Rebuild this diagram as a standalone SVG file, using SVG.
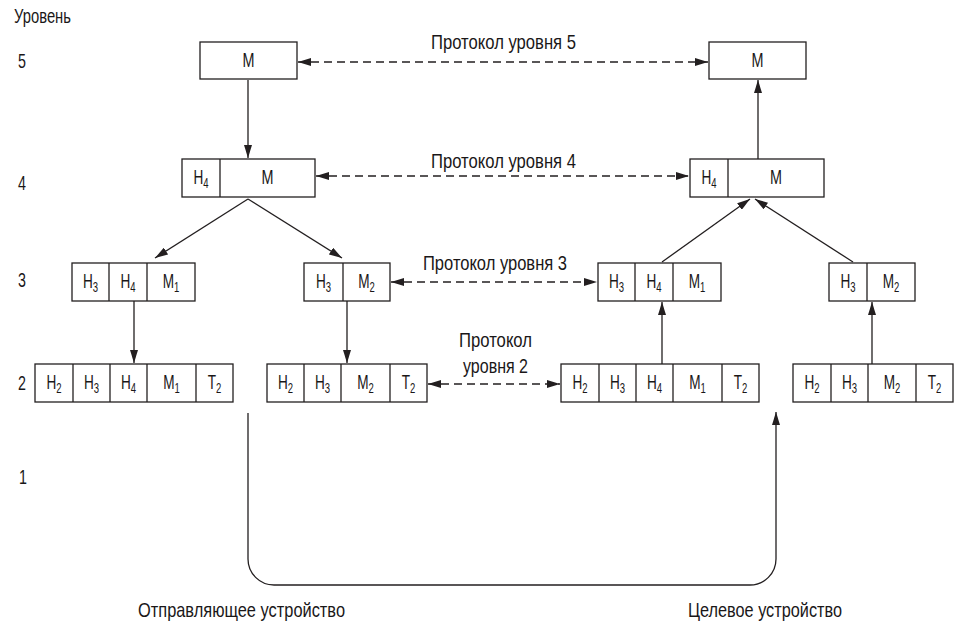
<svg xmlns="http://www.w3.org/2000/svg" width="954" height="626" viewBox="0 0 954 626">
<style>
text{font-family:"Liberation Sans","Arial",sans-serif;fill:#1a1718}
.lbl{font-size:21px}
.cell{font-size:20px;text-anchor:middle}
.sub{font-size:14px}
.box{fill:#fff;stroke:#231f20;stroke-width:1.3}
.div{stroke:#231f20;stroke-width:1.3}
.ln{fill:none;stroke:#231f20;stroke-width:1.3}
.dash{fill:none;stroke:#231f20;stroke-width:1.3;stroke-dasharray:8 5}
</style>
<defs>
<marker id="ah" viewBox="0 0 13 8" refX="13" refY="4" markerWidth="13" markerHeight="8" markerUnits="userSpaceOnUse" orient="auto-start-reverse">
<path d="M0,0 L13,4 L0,8 Z" fill="#231f20"/>
</marker>
</defs>

<g id="levels">
<text class="lbl" x="14" y="23" textLength="57" lengthAdjust="spacingAndGlyphs">Уровень</text>
<text class="lbl" transform="translate(18,68) scale(0.68,1)">5</text>
<text class="lbl" transform="translate(18,190) scale(0.68,1)">4</text>
<text class="lbl" transform="translate(18,287) scale(0.68,1)">3</text>
<text class="lbl" transform="translate(18,390) scale(0.68,1)">2</text>
<text class="lbl" transform="translate(19,484) scale(0.68,1)">1</text>
</g>

<g id="connectors">
<line class="ln" x1="248" y1="80" x2="248" y2="158" marker-end="url(#ah)"/>
<line class="ln" x1="248" y1="199" x2="155" y2="258" marker-end="url(#ah)"/>
<line class="ln" x1="248" y1="199" x2="342" y2="258" marker-end="url(#ah)"/>
<line class="ln" x1="134" y1="301" x2="134" y2="363" marker-end="url(#ah)"/>
<line class="ln" x1="347" y1="301" x2="347" y2="363" marker-end="url(#ah)"/>
<line class="ln" x1="662" y1="364" x2="662" y2="302" marker-end="url(#ah)"/>
<line class="ln" x1="872" y1="364" x2="872" y2="302" marker-end="url(#ah)"/>
<line class="ln" x1="662" y1="262" x2="750" y2="199" marker-end="url(#ah)"/>
<line class="ln" x1="853" y1="262" x2="755" y2="199" marker-end="url(#ah)"/>
<line class="ln" x1="758" y1="159" x2="758" y2="80" marker-end="url(#ah)"/>
<line class="dash" x1="298" y1="62" x2="708" y2="62" marker-start="url(#ah)" marker-end="url(#ah)"/>
<line class="dash" x1="316" y1="176" x2="689" y2="176" marker-start="url(#ah)" marker-end="url(#ah)"/>
<line class="dash" x1="391" y1="282" x2="597" y2="282" marker-start="url(#ah)" marker-end="url(#ah)"/>
<line class="dash" x1="428" y1="384" x2="560" y2="384" marker-start="url(#ah)" marker-end="url(#ah)"/>
<path class="ln" d="M248,413 V559 A26,26 0 0 0 274,585 H750 A26,26 0 0 0 776,559 V412" marker-end="url(#ah)"/>
</g>

<g id="protocol-labels">
<text class="lbl" x="431" y="49" textLength="145" lengthAdjust="spacingAndGlyphs">Протокол уровня 5</text>
<text class="lbl" x="431" y="168" textLength="145" lengthAdjust="spacingAndGlyphs">Протокол уровня 4</text>
<text class="lbl" x="423" y="270" textLength="144" lengthAdjust="spacingAndGlyphs">Протокол уровня 3</text>
<text class="lbl" x="459" y="347" textLength="73" lengthAdjust="spacingAndGlyphs">Протокол</text>
<text class="lbl" x="463" y="373" textLength="65" lengthAdjust="spacingAndGlyphs">уровня 2</text>
</g>

<g id="n-l5-send">
<rect class="box" x="200" y="42" width="97" height="37"/>
<text class="cell" transform="translate(248.5,67) scale(0.72,1)">M</text>
</g>
<g id="n-l5-recv">
<rect class="box" x="709" y="42" width="97" height="37"/>
<text class="cell" transform="translate(757.5,67) scale(0.72,1)">M</text>
</g>

<g id="n-l4-send">
<rect class="box" x="182" y="159" width="133" height="38"/>
<line class="div" x1="220" y1="159" x2="220" y2="197"/>
<text class="cell" transform="translate(201,184) scale(0.68,1)">H<tspan class="sub" dy="4">4</tspan></text>
<text class="cell" transform="translate(267.5,184) scale(0.72,1)">M</text>
</g>
<g id="n-l4-recv">
<rect class="box" x="690" y="159" width="134" height="38"/>
<line class="div" x1="728" y1="159" x2="728" y2="197"/>
<text class="cell" transform="translate(709,184) scale(0.68,1)">H<tspan class="sub" dy="4">4</tspan></text>
<text class="cell" transform="translate(776,184) scale(0.72,1)">M</text>
</g>

<g id="n-l3-send-a">
<rect class="box" x="72" y="263" width="123" height="38"/>
<line class="div" x1="109" y1="263" x2="109" y2="301"/>
<line class="div" x1="147" y1="263" x2="147" y2="301"/>
<text class="cell" transform="translate(90.5,288) scale(0.68,1)">H<tspan class="sub" dy="4">3</tspan></text>
<text class="cell" transform="translate(128,288) scale(0.68,1)">H<tspan class="sub" dy="4">4</tspan></text>
<text class="cell" transform="translate(171,288) scale(0.68,1)">M<tspan class="sub" dy="4">1</tspan></text>
</g>
<g id="n-l3-send-b">
<rect class="box" x="304" y="263" width="86" height="38"/>
<line class="div" x1="343" y1="263" x2="343" y2="301"/>
<text class="cell" transform="translate(323.5,288) scale(0.68,1)">H<tspan class="sub" dy="4">3</tspan></text>
<text class="cell" transform="translate(366.5,288) scale(0.68,1)">M<tspan class="sub" dy="4">2</tspan></text>
</g>
<g id="n-l3-recv-a">
<rect class="box" x="598" y="263" width="123" height="38"/>
<line class="div" x1="635" y1="263" x2="635" y2="301"/>
<line class="div" x1="673" y1="263" x2="673" y2="301"/>
<text class="cell" transform="translate(616.5,288) scale(0.68,1)">H<tspan class="sub" dy="4">3</tspan></text>
<text class="cell" transform="translate(654,288) scale(0.68,1)">H<tspan class="sub" dy="4">4</tspan></text>
<text class="cell" transform="translate(697,288) scale(0.68,1)">M<tspan class="sub" dy="4">1</tspan></text>
</g>
<g id="n-l3-recv-b">
<rect class="box" x="829" y="263" width="86" height="38"/>
<line class="div" x1="867" y1="263" x2="867" y2="301"/>
<text class="cell" transform="translate(848,288) scale(0.68,1)">H<tspan class="sub" dy="4">3</tspan></text>
<text class="cell" transform="translate(891,288) scale(0.68,1)">M<tspan class="sub" dy="4">2</tspan></text>
</g>

<g id="n-l2-send-a">
<rect class="box" x="35" y="364" width="198" height="38"/>
<line class="div" x1="73" y1="364" x2="73" y2="402"/>
<line class="div" x1="110" y1="364" x2="110" y2="402"/>
<line class="div" x1="147" y1="364" x2="147" y2="402"/>
<line class="div" x1="196" y1="364" x2="196" y2="402"/>
<text class="cell" transform="translate(54,389) scale(0.68,1)">H<tspan class="sub" dy="4">2</tspan></text>
<text class="cell" transform="translate(91.5,389) scale(0.68,1)">H<tspan class="sub" dy="4">3</tspan></text>
<text class="cell" transform="translate(128.5,389) scale(0.68,1)">H<tspan class="sub" dy="4">4</tspan></text>
<text class="cell" transform="translate(171.5,389) scale(0.68,1)">M<tspan class="sub" dy="4">1</tspan></text>
<text class="cell" transform="translate(214.5,389) scale(0.68,1)">T<tspan class="sub" dy="4">2</tspan></text>
</g>
<g id="n-l2-send-b">
<rect class="box" x="267" y="364" width="160" height="38"/>
<line class="div" x1="304" y1="364" x2="304" y2="402"/>
<line class="div" x1="341" y1="364" x2="341" y2="402"/>
<line class="div" x1="390" y1="364" x2="390" y2="402"/>
<text class="cell" transform="translate(285.5,389) scale(0.68,1)">H<tspan class="sub" dy="4">2</tspan></text>
<text class="cell" transform="translate(322.5,389) scale(0.68,1)">H<tspan class="sub" dy="4">3</tspan></text>
<text class="cell" transform="translate(365.5,389) scale(0.68,1)">M<tspan class="sub" dy="4">2</tspan></text>
<text class="cell" transform="translate(408.5,389) scale(0.68,1)">T<tspan class="sub" dy="4">2</tspan></text>
</g>
<g id="n-l2-recv-a">
<rect class="box" x="561" y="364" width="198" height="38"/>
<line class="div" x1="599" y1="364" x2="599" y2="402"/>
<line class="div" x1="636" y1="364" x2="636" y2="402"/>
<line class="div" x1="673" y1="364" x2="673" y2="402"/>
<line class="div" x1="722" y1="364" x2="722" y2="402"/>
<text class="cell" transform="translate(580,389) scale(0.68,1)">H<tspan class="sub" dy="4">2</tspan></text>
<text class="cell" transform="translate(617.5,389) scale(0.68,1)">H<tspan class="sub" dy="4">3</tspan></text>
<text class="cell" transform="translate(654.5,389) scale(0.68,1)">H<tspan class="sub" dy="4">4</tspan></text>
<text class="cell" transform="translate(697.5,389) scale(0.68,1)">M<tspan class="sub" dy="4">1</tspan></text>
<text class="cell" transform="translate(740.5,389) scale(0.68,1)">T<tspan class="sub" dy="4">2</tspan></text>
</g>
<g id="n-l2-recv-b">
<rect class="box" x="793" y="364" width="160" height="38"/>
<line class="div" x1="831" y1="364" x2="831" y2="402"/>
<line class="div" x1="868" y1="364" x2="868" y2="402"/>
<line class="div" x1="916" y1="364" x2="916" y2="402"/>
<text class="cell" transform="translate(812,389) scale(0.68,1)">H<tspan class="sub" dy="4">2</tspan></text>
<text class="cell" transform="translate(849.5,389) scale(0.68,1)">H<tspan class="sub" dy="4">3</tspan></text>
<text class="cell" transform="translate(892,389) scale(0.68,1)">M<tspan class="sub" dy="4">2</tspan></text>
<text class="cell" transform="translate(934.5,389) scale(0.68,1)">T<tspan class="sub" dy="4">2</tspan></text>
</g>

<g id="devices">
<text class="lbl" x="138" y="617" textLength="207" lengthAdjust="spacingAndGlyphs">Отправляющее устройство</text>
<text class="lbl" x="688" y="617" textLength="154" lengthAdjust="spacingAndGlyphs">Целевое устройство</text>
</g>
</svg>
